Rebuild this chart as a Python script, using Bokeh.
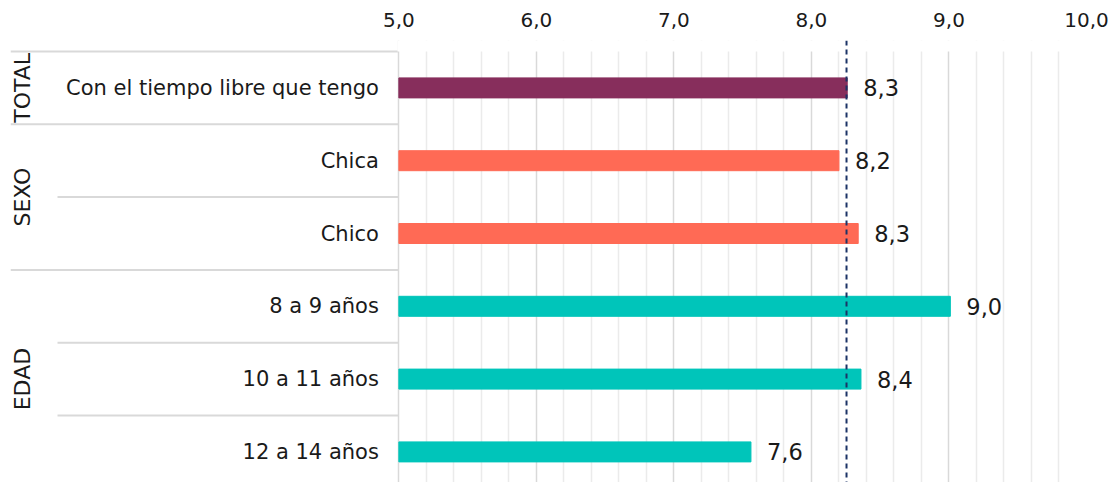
from bokeh.plotting import figure
from bokeh.models import Range1d, FixedTicker, Span, BoxAnnotation, ColumnDataSource
from bokeh.core.properties import value
from bokeh.embed import file_html
from bokeh.resources import INLINE
import math

# ---- data ----
categories = ["Con el tiempo libre que tengo", "Chica", "Chico",
              "8 a 9 años", "10 a 11 años", "12 a 14 años"]
groups = ["TOTAL", "SEXO", "EDAD"]
group_sizes = [1, 2, 3]
values = [8.26, 8.20, 8.34, 9.01, 8.36, 7.56]
bar_colors = ["#872E5C", "#FF6A55", "#FF6A55", "#00C5BA", "#00C5BA", "#00C5BA"]
mean_value = 8.255
tick_values = [5, 6, 7, 8, 9, 10]
tick_labels = ["5,0", "6,0", "7,0", "8,0", "9,0", "10,0"]
minor_tick_values = [5.2, 5.4, 5.6, 5.8, 6.2, 6.4, 6.6, 6.8, 7.2, 7.4, 7.6, 7.8,
                     8.2, 8.4, 8.6, 8.8, 9.2, 9.4, 9.6, 9.8]

FONT = "DejaVu Sans"
TXT = "#1a1a1a"

W, H = 1109, 482
PX = 137.5                      # pixels per unit on the x scale
x_start = 5 - 388.3 / PX        # left edge of the frame in data units
ROW = 72.8
y_top = -11 / ROW
y_bottom = (H - 51) / ROW

p = figure(width=W, height=H, output_backend="svg", toolbar_location=None,
           x_axis_location="above", y_axis_location=None,
           x_range=Range1d(x_start, 10), y_range=Range1d(y_bottom, y_top),
           min_border_left=10, min_border_right=23, min_border_top=40,
           min_border_bottom=0)
p.outline_line_color = None
p.background_fill_color = "white"
p.border_fill_color = "white"

ax = p.xaxis[0]
ax.ticker = FixedTicker(ticks=tick_values, minor_ticks=minor_tick_values)
ax.major_label_overrides = {t: l for t, l in zip(tick_values, tick_labels)}
ax.axis_line_color = None
ax.major_tick_line_color = None
ax.minor_tick_line_color = None
ax.major_label_text_font = FONT
ax.major_label_text_font_size = "20px"
ax.major_label_text_color = TXT
ax.major_label_standoff = 8

p.ygrid.grid_line_color = None
p.xgrid.grid_line_color = "#D9D9D9"
p.xgrid.grid_line_width = 1.5
p.xgrid.minor_grid_line_color = "#EBEBEB"
p.xgrid.minor_grid_line_width = 1.5

# white strip above first row hides grid lines there
p.add_layout(BoxAnnotation(bottom=0, top=y_top, left=4.99, right=10,
                           fill_color="white", fill_alpha=1, line_color=None,
                           level="glyph"))

rows = [i + 0.5 for i in range(len(categories))]
src = ColumnDataSource(dict(y=rows, v=values, c=bar_colors, cat=categories,
                            lab=[f"{v:.1f}".replace(".", ",") for v in values]))

p.hbar(y="y", left=5, right="v", height=20 / ROW, color="c", source=src)

# value labels
p.text(x="v", y="y", text="lab", source=src, x_offset=16,
       text_align="left", text_baseline="middle",
       text_font=value(FONT), text_font_size="22.5px", text_color=TXT)

# category labels
p.text(x=5, y="y", text="cat", source=src, x_offset=-20,
       text_align="right", text_baseline="middle",
       text_font=value(FONT), text_font_size="21px", text_color=TXT)

# group labels and separators
bounds = [0]
for s in group_sizes:
    bounds.append(bounds[-1] + s)
g_centers = [(a + b) / 2 for a, b in zip(bounds[:-1], bounds[1:])]
p.text(x=[x_start] * len(groups), y=g_centers, text=groups, x_offset=12,
       angle=math.pi / 2, text_align="center", text_baseline="middle",
       text_font=value(FONT), text_font_size="22px", text_color=TXT)

inner = [i for i in range(len(categories) + 1) if i not in bounds]
x_inner = x_start + 47 / PX
p.segment(x0=[x_start] * len(bounds), x1=[5] * len(bounds), y0=bounds, y1=bounds,
          line_color="#D9D9D9", line_width=2)
p.segment(x0=[x_inner] * len(inner), x1=[5] * len(inner), y0=inner, y1=inner,
          line_color="#D9D9D9", line_width=2)

p.add_layout(Span(location=mean_value, dimension="height", line_color="#1B3366",
                  line_width=2, line_dash="5 4", level="overlay"))

open("out.html", "w").write(file_html(p, INLINE))
